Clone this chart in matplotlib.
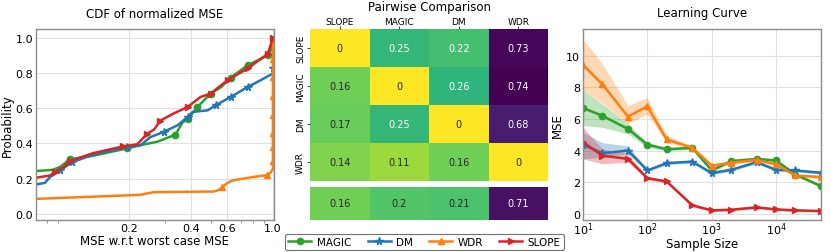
import numpy as np
import matplotlib
matplotlib.use("Agg")
import matplotlib.pyplot as plt
import seaborn as sns
from matplotlib.ticker import NullFormatter, FixedLocator

plt.rcParams['font.family'] = ['DejaVu Sans']

methods = ["MAGIC", "DM", "WDR", "SLOPE"]
colors = {"MAGIC": "#2ca02c", "DM": "#1f77b4", "WDR": "#ff7f0e", "SLOPE": "#d62728"}
markers = {"MAGIC": "o", "DM": "*", "WDR": "^", "SLOPE": ">"}

# ---- CDF data (normalized MSE, cumulative probability) ----
cdf_x_magic = [0.0706, 0.085, 0.0925, 0.103, 0.134, 0.196, 0.227, 0.275, 0.336, 0.364, 0.385, 0.43, 0.498, 0.56, 0.624, 0.755, 0.945, 0.98, 1.0]
cdf_y_magic = [0.243, 0.25, 0.266, 0.31, 0.33, 0.372, 0.39, 0.41, 0.45, 0.52, 0.537, 0.607, 0.683, 0.72, 0.774, 0.845, 0.90, 0.93, 0.995]
cdf_m_magic = [3, 5, 8, 10, 11, 12, 14, 15, 16]

cdf_x_dm = [0.0706, 0.078, 0.0826, 0.0925, 0.106, 0.134, 0.196, 0.227, 0.254, 0.294, 0.344, 0.385, 0.407, 0.482, 0.527, 0.624, 0.755, 0.874, 1.0, 1.0]
cdf_y_dm = [0.167, 0.176, 0.209, 0.247, 0.294, 0.336, 0.38, 0.389, 0.436, 0.465, 0.503, 0.55, 0.579, 0.588, 0.617, 0.664, 0.721, 0.76, 0.797, 0.83]
cdf_m_dm = [3, 4, 6, 9, 11, 14, 15, 16, 19]

cdf_x_wdr = [0.0706, 0.227, 0.263, 0.515, 0.545, 0.568, 0.60, 0.636, 0.81, 0.94, 0.975, 1.0, 1.0, 1.0, 1.0, 1.0, 1.0, 1.0, 1.0, 1.0]
cdf_y_wdr = [0.085, 0.108, 0.123, 0.127, 0.135, 0.152, 0.175, 0.19, 0.21, 0.22, 0.235, 0.256, 0.30, 0.38, 0.46, 0.56, 0.67, 0.78, 0.88, 0.97]
cdf_m_wdr = [5, 9, 12, 13, 14, 15, 16, 17, 18]

cdf_x_slope = [0.0706, 0.0826, 0.087, 0.095, 0.103, 0.134, 0.187, 0.219, 0.245, 0.265, 0.284, 0.329, 0.385, 0.445, 0.498, 0.603, 0.755, 0.945, 1.0]
cdf_y_slope = [0.205, 0.218, 0.237, 0.26, 0.30, 0.345, 0.383, 0.395, 0.455, 0.48, 0.53, 0.57, 0.607, 0.664, 0.683, 0.76, 0.826, 0.91, 1.0]
cdf_m_slope = [2, 4, 6, 8, 10, 12, 14, 15, 16, 17, 18]

cdf_data = {
    "MAGIC": (cdf_x_magic, cdf_y_magic, cdf_m_magic),
    "DM": (cdf_x_dm, cdf_y_dm, cdf_m_dm),
    "WDR": (cdf_x_wdr, cdf_y_wdr, cdf_m_wdr),
    "SLOPE": (cdf_x_slope, cdf_y_slope, cdf_m_slope),
}

# ---- Pairwise comparison ----
pair_labels = ["SLOPE", "MAGIC", "DM", "WDR"]
pair_matrix = [
    [0.00, 0.25, 0.22, 0.73],
    [0.16, 0.00, 0.26, 0.74],
    [0.17, 0.25, 0.00, 0.68],
    [0.14, 0.11, 0.16, 0.00],
]
pair_mean = [0.16, 0.20, 0.21, 0.71]

# ---- Learning curve ----
sample_sizes = [10, 20, 50, 100, 200, 500, 1000, 2000, 5000, 10000, 20000, 50000]
lc_mean = {
    "MAGIC": [6.7, 6.2, 5.37, 4.38, 4.08, 4.17, 2.74, 3.33, 3.47, 3.37, 2.48, 1.75],
    "DM": [4.38, 3.83, 4.0, 2.74, 3.2, 3.3, 2.57, 2.78, 3.26, 2.78, 2.74, 2.59],
    "WDR": [9.43, 8.2, 6.15, 6.8, 4.7, 4.17, 3.05, 3.22, 3.41, 3.12, 2.42, 2.32],
    "SLOPE": [4.53, 3.68, 3.47, 2.25, 2.04, 0.53, 0.21, 0.25, 0.40, 0.27, 0.21, 0.17],
}
lc_low = {
    "MAGIC": [5.58, 5.47, 5.05, 4.2, 3.98, 4.08, 2.64, 3.23, 3.37, 3.27, 2.38, 1.65],
    "DM": [3.47, 3.58, 3.8, 2.64, 3.1, 3.2, 2.47, 2.68, 3.16, 2.68, 2.64, 2.49],
    "WDR": [7.8, 7.0, 5.7, 6.3, 4.5, 4.05, 2.95, 3.12, 3.31, 3.02, 2.32, 2.22],
    "SLOPE": [3.47, 3.16, 3.26, 2.15, 1.94, 0.43, 0.13, 0.17, 0.32, 0.19, 0.13, 0.10],
}
lc_high = {
    "MAGIC": [7.8, 6.95, 5.7, 4.5, 4.18, 4.27, 2.84, 3.43, 3.57, 3.47, 2.58, 1.85],
    "DM": [5.15, 4.5, 4.3, 2.84, 3.3, 3.4, 2.67, 2.88, 3.36, 2.88, 2.84, 2.69],
    "WDR": [11.05, 9.5, 6.85, 7.35, 4.95, 4.3, 3.15, 3.32, 3.51, 3.22, 2.52, 2.42],
    "SLOPE": [5.47, 4.1, 3.8, 2.35, 2.14, 0.63, 0.29, 0.33, 0.48, 0.35, 0.29, 0.24],
}

W, H = 831, 253
fig = plt.figure(figsize=(W / 100, H / 100), dpi=100)

def fr(x0, y_top, x1, y_bot):
    return [x0 / W, 1 - y_bot / H, (x1 - x0) / W, (y_bot - y_top) / H]

spine_col = "0.55"
grid_col = "0.88"
fs_tick = 8
fs_lab = 8.5
fs_title = 8.5

def style_axes(ax):
    for s in ax.spines.values():
        s.set_color(spine_col)
        s.set_linewidth(1.0)
    ax.grid(True, color=grid_col, linewidth=0.8)
    ax.set_axisbelow(True)
    ax.tick_params(labelsize=fs_tick, length=0, which="major", pad=2)
    ax.tick_params(which="minor", length=2, color=spine_col)

# ---- Left: CDF ----
ax1 = fig.add_axes(fr(36, 30, 274, 221))
style_axes(ax1)
handles = []
for m in methods:
    xs, ys, mk = cdf_data[m]
    h, = ax1.plot(xs, ys, color=colors[m], lw=1.8, marker=markers[m], markevery=mk,
                  markersize=4.5 if m != "DM" else 5.5, label=m, clip_on=True)
    handles.append(h)
ax1.set_xscale("log")
ax1.set_xlim(0.0706, 1.012)
ax1.set_ylim(-0.035, 1.05)
ax1.xaxis.set_major_locator(FixedLocator([0.2, 0.4, 0.6, 1.0]))
ax1.set_xticklabels(["0.2", "0.4", "0.6", "1.0"])
ax1.xaxis.set_minor_formatter(NullFormatter())
ax1.set_yticks([0.0, 0.2, 0.4, 0.6, 0.8, 1.0])
ax1.set_yticklabels(["0.0", "0.2", "0.4", "0.6", "0.8", "1.0"])
ax1.set_xlabel("MSE w.r.t worst case MSE", fontsize=fs_lab, labelpad=1)
ax1.set_ylabel("Probability", fontsize=fs_lab, labelpad=1)
ax1.set_title("CDF of normalized MSE", fontsize=fs_title, pad=9)

# ---- Middle: pairwise heatmap ----
axh = fig.add_axes(fr(310, 30, 548, 182))
axb = fig.add_axes(fr(310, 188, 548, 221))
vmin, vmax = 0.0, max(max(r) for r in pair_matrix)
sns.heatmap(np.array(pair_matrix), ax=axh, cmap="viridis_r", vmin=vmin, vmax=vmax,
            annot=True, fmt="g", cbar=False, annot_kws={"fontsize": 7},
            xticklabels=pair_labels, yticklabels=pair_labels)
axh.xaxis.tick_top()
axh.tick_params(axis="x", labelsize=6.5, length=2, pad=0, color="0.3")
axh.tick_params(axis="y", labelsize=6.5, length=2, pad=1.5, color="0.3")
axh.set_yticklabels(pair_labels, rotation=90, va="center")
axh.set_xticklabels(pair_labels, rotation=0)
fig.text(429 / W, 1 - 8 / H, "Pairwise Comparison", fontsize=fs_title,
         ha="center", va="center")
sns.heatmap(np.array([pair_mean]), ax=axb, cmap="viridis_r", vmin=vmin, vmax=vmax,
            annot=True, fmt="g", cbar=False, annot_kws={"fontsize": 7},
            xticklabels=False, yticklabels=False)

# ---- Right: learning curve ----
ax3 = fig.add_axes(fr(583, 30, 821, 221))
style_axes(ax3)
for m in methods:
    ax3.fill_between(sample_sizes, lc_low[m], lc_high[m], color=colors[m], alpha=0.3, lw=0)
    ax3.plot(sample_sizes, lc_mean[m], color=colors[m], lw=1.8, marker=markers[m],
             markersize=4.5 if m != "DM" else 5.5)
ax3.set_xscale("log")
ax3.set_xlim(10, 50000)
ax3.set_ylim(-0.4, 11.7)
ax3.set_yticks([0, 2, 4, 6, 8, 10])
ax3.xaxis.set_minor_formatter(NullFormatter())
ax3.tick_params(which="minor", length=0)
ax3.tick_params(axis="x", which="major", pad=0)
ax3.set_xlabel("Sample Size", fontsize=fs_lab, labelpad=0)
ax3.set_ylabel("MSE", fontsize=fs_lab, labelpad=2)
ax3.set_title("Learning Curve", fontsize=fs_title, pad=9)

leg = fig.legend(handles, methods, loc="center", bbox_to_anchor=(424.5 / W, 1 - 243 / H),
                 ncol=4, fontsize=7.5, frameon=True, handlelength=2.2, columnspacing=1.6,
                 borderpad=0.3, handletextpad=0.5)
leg.get_frame().set_edgecolor("0.3")
leg.get_frame().set_linewidth(0.8)

fig.savefig("out.png", dpi=100)
